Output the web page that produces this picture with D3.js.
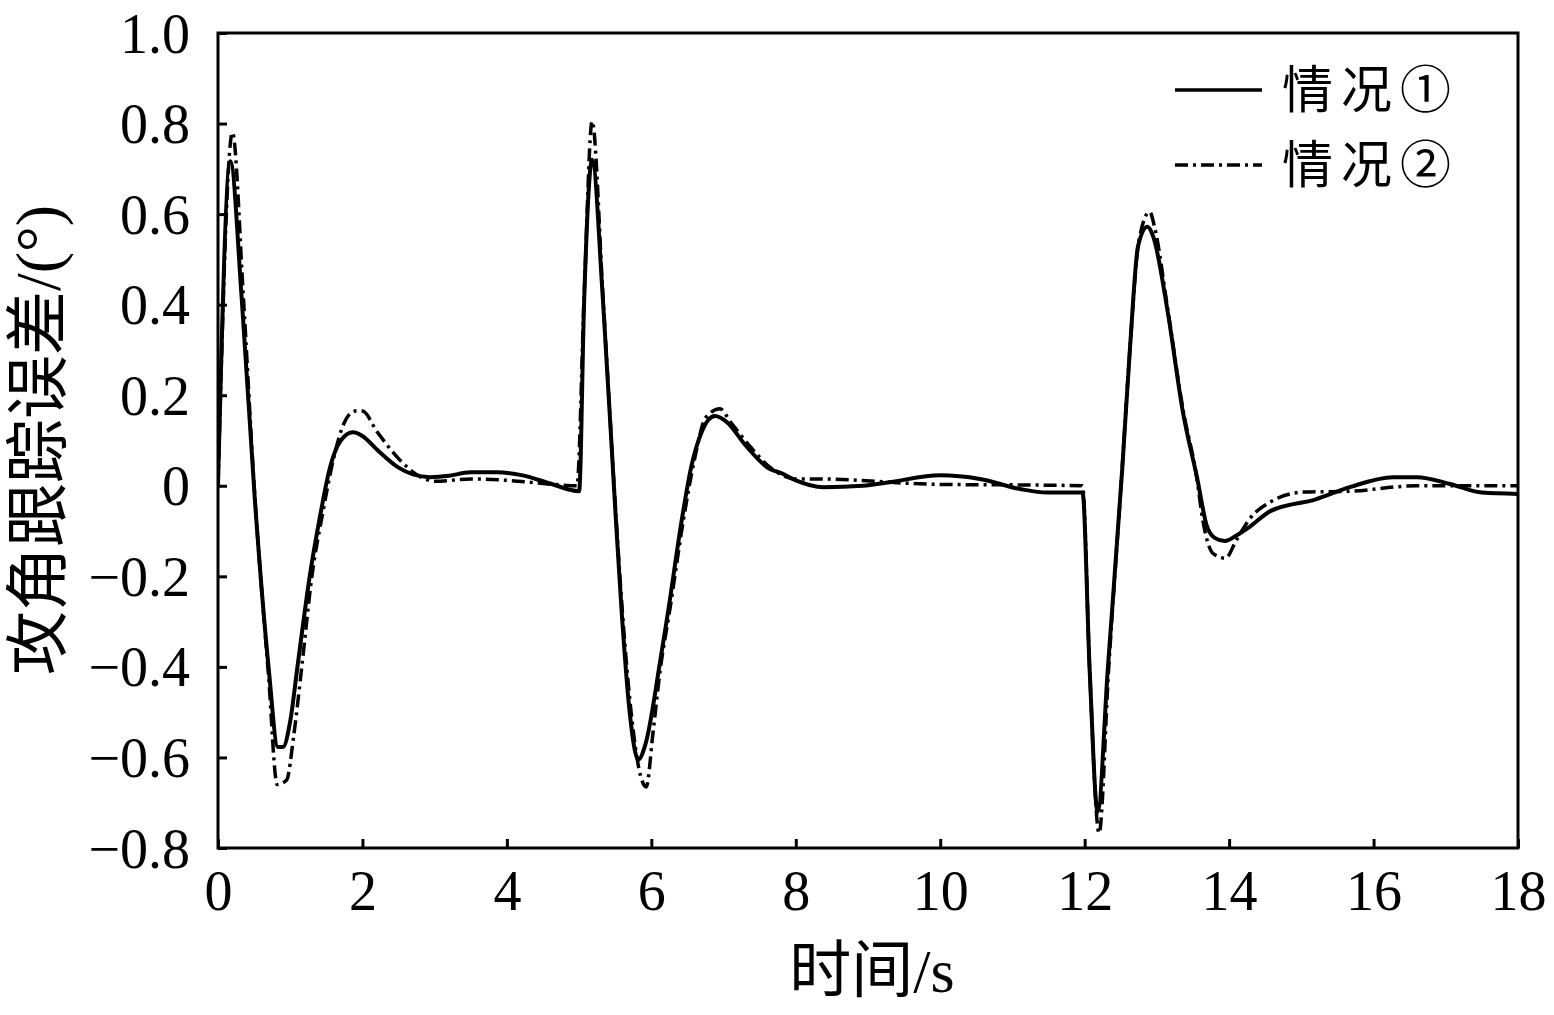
<!DOCTYPE html>
<html>
<head>
<meta charset="utf-8">
<script src="https://cdn.jsdelivr.net/npm/d3@7"></script>
<style>
  html, body { margin: 0; padding: 0; background: #fff; }
  svg text { font-family: "Liberation Serif", "Noto Sans CJK SC", serif; fill: #000; }
</style>
</head>
<body>
<svg id="chart" width="1554" height="1015"></svg>
<script>
// ---- data ----
const seriesNames = ["情况①", "情况②"];

const time1 = [0, 0.17, 0.33, 0.51, 0.7, 0.83, 0.9, 1.0, 1.1, 1.27, 1.41, 1.55, 1.7, 1.87, 2.0, 2.2, 2.5, 2.7, 2.94, 3.2, 3.49, 3.86, 4.22, 4.6, 5.0,
  5.07, 5.18, 5.33, 5.5, 5.59, 5.7, 5.82, 5.92, 6.12, 6.23, 6.43, 6.55, 6.7, 6.88, 7.05, 7.3, 7.64, 7.8, 8.0, 8.38, 8.93, 9.3, 10.0, 10.55, 11.1, 11.48, 11.97,
  12.07, 12.18, 12.32, 12.52, 12.63, 12.74, 12.87, 12.95, 13.15, 13.36, 13.56, 13.69, 13.8, 13.94, 14.1, 14.29, 14.57, 15.2, 15.67, 16.27, 16.6, 17.06, 17.5, 18.0];
const case1 = [0, 0.717, 0.41, -0.03, -0.4, -0.577, -0.577, -0.52, -0.40, -0.2, -0.07, 0.04, 0.1, 0.118, 0.11, 0.08, 0.04, 0.025, 0.019, 0.022, 0.03, 0.03, 0.023, 0.005, -0.012,
  0.41, 0.72, 0.41, -0.05, -0.28, -0.5, -0.605, -0.57, -0.39, -0.28, -0.067, 0.04, 0.12, 0.154, 0.14, 0.09, 0.037, 0.028, 0.012, -0.003, 0.0, 0.008, 0.023, 0.015, -0.007, -0.015, -0.015,
  -0.41, -0.72, -0.405, 0.037, 0.31, 0.53, 0.572, 0.55, 0.384, 0.163, 0.015, -0.088, -0.115, -0.122, -0.11, -0.09, -0.056, -0.03, -0.003, 0.019, 0.019, 0.004, -0.015, -0.018];

const time2 = [0, 0.2, 0.35, 0.5, 0.7, 0.82, 0.95, 1.05, 1.16, 1.3, 1.45, 1.6, 1.75, 1.9, 2.0, 2.2, 2.5, 2.8, 3.0, 3.5, 4.0, 4.5, 4.97,
  5.07, 5.18, 5.33, 5.5, 5.6, 5.72, 5.85, 5.93, 6.02, 6.12, 6.25, 6.45, 6.6, 6.75, 6.95, 7.1, 7.35, 7.65, 8.0, 8.4, 8.9, 9.5, 10.0, 11.0, 11.97,
  12.07, 12.2, 12.33, 12.52, 12.63, 12.75, 12.9, 12.97, 13.15, 13.36, 13.55, 13.64, 13.78, 13.95, 14.1, 14.3, 14.57, 15.03, 15.67, 16.6, 18.0];
const case2 = [0, 0.78, 0.42, 0.0, -0.42, -0.66, -0.65, -0.55, -0.4, -0.2, -0.06, 0.06, 0.14, 0.165, 0.165, 0.12, 0.06, 0.02, 0.01, 0.015, 0.012, 0.005, 0.0,
  0.42, 0.805, 0.42, -0.04, -0.28, -0.5, -0.64, -0.665, -0.55, -0.41, -0.28, -0.07, 0.06, 0.15, 0.17, 0.14, 0.09, 0.04, 0.015, 0.015, 0.012, 0.006, 0.003, 0.002, 0.0,
  -0.41, -0.767, -0.41, 0.04, 0.31, 0.54, 0.605, 0.57, 0.39, 0.17, 0.02, -0.08, -0.15, -0.16, -0.12, -0.07, -0.036, -0.014, -0.012, 0.0, 0.0];

const xTicks = [0, 2, 4, 6, 8, 10, 12, 14, 16, 18];
const yTicks = [1.0, 0.8, 0.6, 0.4, 0.2, 0, -0.2, -0.4, -0.6, -0.8];
const yTickLabels = ["1.0", "0.8", "0.6", "0.4", "0.2", "0", "\u22120.2", "\u22120.4", "\u22120.6", "\u22120.8"];
const xTitle = "时间/s";
const yTitle = "攻角跟踪误差/(°)";

// ---- layout ----
const svg = d3.select("#chart");
const L = 218, R = 1518, T = 33, B = 848;
const x = d3.scaleLinear().domain([0, 18]).range([L, R]);
const y = d3.scaleLinear().domain([-0.8, 1.0]).range([B, T]);

// axes
const xAxis = d3.axisBottom(x).tickValues(xTicks).tickSize(-9).tickPadding(22).tickFormat(d3.format("d"));
const yAxis = d3.axisLeft(y).tickValues(yTicks).tickSize(-9).tickPadding(28).tickFormat((d, i) => yTickLabels[i]);

const gx = svg.append("g").attr("transform", `translate(0,${B})`).call(xAxis);
const gy = svg.append("g").attr("transform", `translate(${L},0)`).call(yAxis);
[gx, gy].forEach(g => {
  g.select(".domain").remove();
  g.selectAll(".tick line").attr("stroke", "#000").attr("stroke-width", 3);
  g.selectAll(".tick text").attr("font-size", 56).style("font-family", '"Liberation Serif", serif');
});
gx.selectAll(".tick text").attr("dy", "0.71em");
gy.selectAll(".tick text").attr("dy", "0.34em");

// lines
const pts1 = time1.map((t, i) => [t, case1[i]]);
const pts2 = time2.map((t, i) => [t, case2[i]]);
const line = d3.line().x(d => x(d[0])).y(d => y(d[1])).curve(d3.curveMonotoneX);

svg.append("clipPath").attr("id", "clip").append("rect")
  .attr("x", L).attr("y", T).attr("width", R - L).attr("height", B - T);

const plot = svg.append("g").attr("clip-path", "url(#clip)");
plot.append("path").datum(pts2).attr("d", line)
  .attr("fill", "none").attr("stroke", "#000").attr("stroke-width", 3.5)
  .attr("stroke-dasharray", "13,5,3,5").attr("stroke-linejoin", "round");
plot.append("path").datum(pts1).attr("d", line)
  .attr("fill", "none").attr("stroke", "#000").attr("stroke-width", 4).attr("stroke-linejoin", "round");

// frame
svg.append("rect").attr("x", L).attr("y", T).attr("width", R - L).attr("height", B - T)
  .attr("fill", "none").attr("stroke", "#000").attr("stroke-width", 3);

// legend
const legend = svg.append("g");
const legY = [90, 165];
legend.selectAll("line").data(seriesNames).enter().append("line")
  .attr("x1", 1175).attr("x2", 1262)
  .attr("y1", (d, i) => legY[i]).attr("y2", (d, i) => legY[i])
  .attr("stroke", "#000").attr("stroke-width", 3.5)
  .attr("stroke-dasharray", (d, i) => i === 1 ? "13,5,3,5" : null);
legend.selectAll("text").data(seriesNames).enter().append("text")
  .attr("x", 1282).attr("y", (d, i) => legY[i]).attr("dy", "0.36em")
  .attr("font-size", 51).attr("letter-spacing", 8)
  .style("font-family", '"Noto Sans CJK SC", sans-serif')
  .text(d => d);

// axis titles
svg.append("text").attr("x", (L + R) / 2 + 4).attr("y", 992).attr("text-anchor", "middle")
  .attr("font-size", 62).text(xTitle);
svg.append("text").attr("transform", `translate(60,440) rotate(-90)`)
  .attr("text-anchor", "middle").attr("font-size", 64).text(yTitle);
</script>
</body>
</html>
